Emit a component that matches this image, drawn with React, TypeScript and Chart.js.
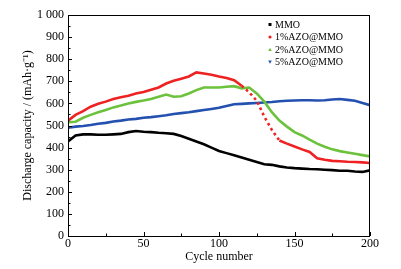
import { useEffect, useRef } from "react";
import { Chart, registerables } from "chart.js";

Chart.register(...registerables);

const cycles = [0, 5, 10, 15, 20, 25, 30, 35, 40, 45, 50, 55, 60, 65, 70, 75, 80, 85, 90, 95, 100,
  105, 110, 115, 120, 125, 130, 135, 140, 145, 150, 155, 160, 165, 170, 175, 180, 185, 190, 195, 200];

const mmo = [428, 455, 460, 460, 458, 458, 460, 462, 470, 475, 472, 470, 467, 465, 462, 452, 440, 428, 415, 400, 385,
  375, 365, 355, 345, 335, 325, 322, 315, 310, 307, 305, 303, 302, 300, 298, 295, 295, 292, 290, 297];

const azo1 = [522, 548, 565, 585, 598, 608, 620, 628, 635, 645, 652, 662, 672, 690, 702, 712, 722, 740, 735, 730, 722,
  715, 705, 680, 650, 612, 540, 480, 432, 418, 405, 392, 380, 352, 345, 340, 338, 336, 335, 333, 330];

const azo2 = [515, 517, 535, 548, 560, 570, 582, 590, 600, 607, 613, 620, 630, 640, 630, 632, 645, 660, 672, 672, 672,
  675, 678, 668, 672, 645, 608, 560, 522, 495, 470, 455, 436, 418, 404, 392, 384, 378, 372, 366, 360];

const azo5 = [490, 495, 498, 502, 508, 512, 518, 522, 527, 530, 535, 538, 542, 546, 552, 556, 560, 565, 570, 575, 580,
  588, 596, 598, 600, 602, 604, 606, 610, 612, 613, 614, 614, 613, 614, 618, 620, 616, 612, 602, 592];

const seriesNames = ["MMO", "1%AZO@MMO", "2%AZO@MMO", "5%AZO@MMO"];
const seriesColors = ["#000000", "#ee2222", "#6cc23c", "#2450b0"];
const seriesValues = [mmo, azo1, azo2, azo5];

const xMajorTicks = [0, 50, 100, 150, 200];
const xMinorTicks = [25, 75, 125, 175];
const yMajorTicks = [0, 100, 200, 300, 400, 500, 600, 700, 800, 900, 1000];
const yMinorTicks = [50, 150, 250, 350, 450, 550, 650, 750, 850, 950];
const yTickLabels = ["0", "100", "200", "300", "400", "500", "600", "700", "800", "900", "1 000"];

const xTitle = "Cycle number";
const yTitle = "Discharge capacity / (mAh·g⁻¹)";

const FONT = "'Liberation Serif', 'Times New Roman', serif";

const framePlugin = {
  id: "frame",
  afterDatasetsDraw(chart: any) {
    const { ctx, chartArea: a, scales } = chart;
    const xs = scales.x;
    const ys = scales.y;
    ctx.save();
    ctx.strokeStyle = "#000";
    ctx.lineWidth = 1;
    ctx.strokeRect(a.left + 0.5, a.top + 0.5, a.right - a.left - 1, a.bottom - a.top);
    ctx.beginPath();
    for (const v of xMajorTicks) {
      const px = Math.round(xs.getPixelForValue(v)) + 0.5;
      ctx.moveTo(px, a.bottom);
      ctx.lineTo(px, a.bottom - 4);
    }
    for (const v of xMinorTicks) {
      const px = Math.round(xs.getPixelForValue(v)) + 0.5;
      ctx.moveTo(px, a.bottom);
      ctx.lineTo(px, a.bottom - 2.5);
    }
    for (const v of yMajorTicks) {
      const py = Math.round(ys.getPixelForValue(v)) + 0.5;
      ctx.moveTo(a.left, py);
      ctx.lineTo(a.left + 4, py);
    }
    for (const v of yMinorTicks) {
      const py = Math.round(ys.getPixelForValue(v)) + 0.5;
      ctx.moveTo(a.left, py);
      ctx.lineTo(a.left + 2.5, py);
    }
    ctx.stroke();
    ctx.restore();
  },
  afterDraw(chart: any) {
    const { ctx, chartArea: a } = chart;
    ctx.save();
    const mx = a.right - 100;
    const tx = mx + 5;
    const rowY = [a.top + 9.5, a.top + 22, a.top + 34.5, a.top + 47];
    ctx.font = `10px ${FONT}`;
    ctx.textBaseline = "middle";
    ctx.textAlign = "left";
    seriesNames.forEach((name, i) => {
      const y = rowY[i];
      ctx.fillStyle = seriesColors[i];
      ctx.beginPath();
      if (i === 0) {
        ctx.rect(mx - 1.5, y - 1.5, 3, 3);
      } else if (i === 1) {
        ctx.arc(mx, y, 1.6, 0, Math.PI * 2);
      } else if (i === 2) {
        ctx.moveTo(mx, y - 1.8);
        ctx.lineTo(mx + 1.8, y + 1.5);
        ctx.lineTo(mx - 1.8, y + 1.5);
        ctx.closePath();
      } else {
        ctx.moveTo(mx, y + 1.8);
        ctx.lineTo(mx + 1.8, y - 1.5);
        ctx.lineTo(mx - 1.8, y - 1.5);
        ctx.closePath();
      }
      ctx.fill();
      ctx.fillStyle = "#000";
      ctx.fillText(name, tx, y + 0.5);
    });
    ctx.restore();
  },
};

export default function App() {
  const ref = useRef<HTMLCanvasElement | null>(null);

  useEffect(() => {
    if (!ref.current) return;
    const datasets = seriesNames.map((name, i) => ({
      label: name,
      data: cycles.map((c, k) => ({ x: c, y: seriesValues[i][k] })),
      borderColor: seriesColors[i],
      backgroundColor: seriesColors[i],
      borderWidth: 2.6,
      pointRadius: 0,
      tension: 0,
      fill: false,
      order: i === 1 ? 0 : i + 1,
      segment: i === 1
        ? {
            borderDash: (c: any) =>
              Math.abs(c.p1.parsed.y - c.p0.parsed.y) > 25 && c.p0.parsed.x >= 110 && c.p1.parsed.x <= 140
                ? [2.6, 3.2]
                : undefined,
          }
        : undefined,
    }));

    const chart = new Chart(ref.current, {
      type: "line",
      data: { datasets },
      plugins: [framePlugin],
      options: {
        animation: false,
        responsive: false,
        maintainAspectRatio: false,
        layout: { padding: { left: 0, right: 31, top: 15, bottom: 0 } },
        plugins: { legend: { display: false }, tooltip: { enabled: false } },
        scales: {
          x: {
            type: "linear",
            min: 0,
            max: 200,
            afterFit: (s: any) => { s.height = 33; },
            afterBuildTicks: (s: any) => { s.ticks = xMajorTicks.map((v) => ({ value: v })); },
            grid: { display: false, drawTicks: false },
            border: { display: false },
            ticks: { color: "#000", font: { family: FONT, size: 12 }, padding: 1, maxRotation: 0 },
            title: { display: true, text: xTitle, color: "#000", font: { family: FONT, size: 12 }, padding: { top: 0, bottom: 5 } },
          },
          y: {
            type: "linear",
            min: 0,
            max: 1000,
            afterFit: (s: any) => { s.width = 68; },
            afterBuildTicks: (s: any) => { s.ticks = yMajorTicks.map((v) => ({ value: v })); },
            grid: { display: false, drawTicks: false },
            border: { display: false },
            ticks: {
              color: "#000",
              font: { family: FONT, size: 12 },
              padding: 4,
              callback: (v: any) => yTickLabels[yMajorTicks.indexOf(Number(v))] ?? String(v),
            },
            title: { display: true, text: yTitle, color: "#000", font: { family: FONT, size: 12 }, padding: { top: 21, bottom: 0 } },
          },
        },
      },
    });
    return () => chart.destroy();
  }, []);

  return (
    <div style={{ position: "fixed", left: 0, top: 0, width: 401, height: 269, background: "#fff" }}>
      <canvas ref={ref} width={401} height={269} style={{ width: 401, height: 269, display: "block" }} />
    </div>
  );
}
